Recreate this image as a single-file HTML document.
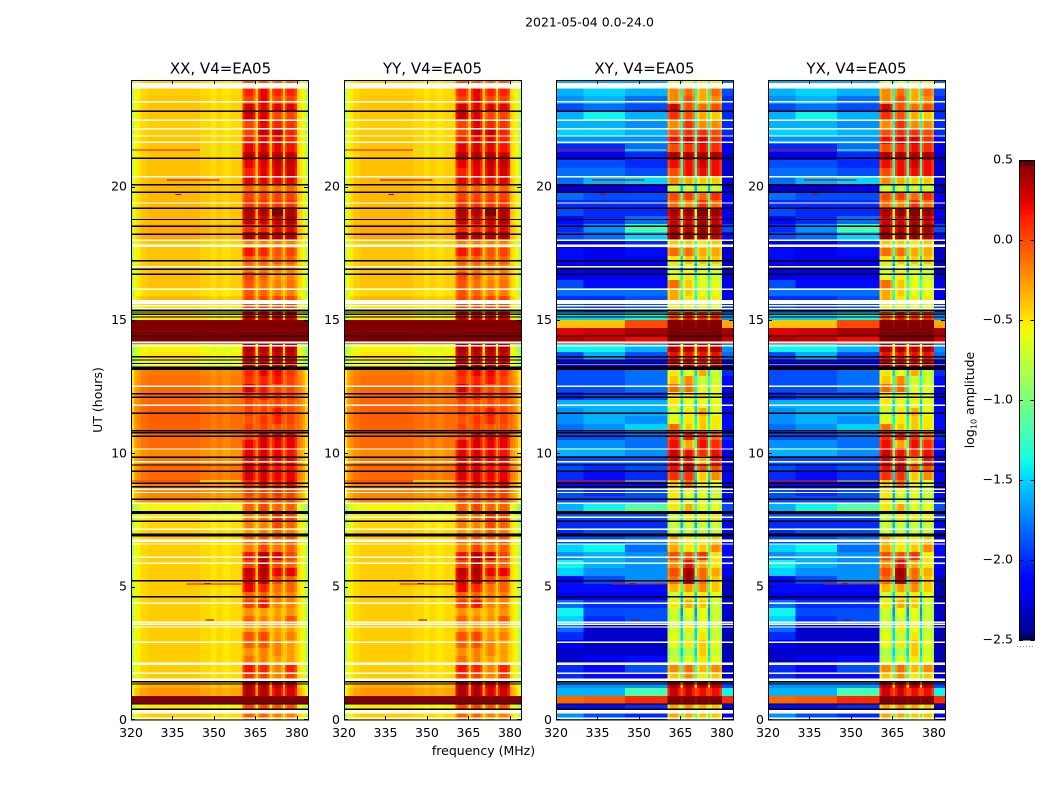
<!DOCTYPE html>
<html lang="en">
<head>
<meta charset="utf-8">
<title>2021-05-04 0.0-24.0</title>
<style>
html,body{margin:0;padding:0;background:#fff;}
svg{display:block;font-family:"DejaVu Sans","Liberation Sans",sans-serif;fill:#000;}
</style>
</head>
<body>
<svg id="chart" xmlns="http://www.w3.org/2000/svg" width="1050" height="800" viewBox="0 0 1050 800">
  <text x="589.5" y="26.5" font-size="12.5" text-anchor="middle">2021-05-04 0.0-24.0</text>
  <text x="220.5" y="73.5" font-size="15" text-anchor="middle">XX, V4=EA05</text>
  <text x="432.5" y="73.5" font-size="15" text-anchor="middle">YY, V4=EA05</text>
  <text x="644.5" y="73.5" font-size="15" text-anchor="middle">XY, V4=EA05</text>
  <text x="856.5" y="73.5" font-size="15" text-anchor="middle">YX, V4=EA05</text>
  <text x="483.5" y="755" font-size="12.5" text-anchor="middle">frequency (MHz)</text>
  <text transform="translate(102,400) rotate(-90)" font-size="12.5" text-anchor="middle">UT (hours)</text>
  <text transform="translate(974,400) rotate(-90)" font-size="12.5" text-anchor="middle">log<tspan font-size="8" dy="2.5">10</tspan><tspan dy="-2.5"> amplitude</tspan></text>
  <defs><linearGradient id="jetGradient" x1="0" y1="1" x2="0" y2="0"></linearGradient></defs>
  <g id="panels"></g>
  <g id="colorbar"></g>
</svg>
<script>
// Frequency channels (MHz): 32 channels between 33 edges
const channelEdges = [320,321,322,323.5,326,330,335,340,345,349,351,353,356,360.4,361.2,364.2,365,366,366.8,369.2,370,371,371.8,374.2,375,375.6,376.4,379.2,380,381,382,383,384];
// Which value in a parallel row each channel reads: 0 low band, 1-4 the four bright sub-bands
const parallelZone = [0,0,0,0,0,0,0,0,0,0,0,0,0,1,1,1,0,2,2,2,0,3,3,3,0,4,4,4,0,0,0,0];
// Which value in a cross row each channel reads: 0-2 low band, 3-6 sub-bands, 7 gaps, 8 upper edge
const crossZone = [0,0,0,0,0,1,1,1,2,2,2,2,2,3,3,3,7,4,4,4,7,5,5,5,7,6,6,6,8,8,8,8];
// Per-channel bandpass roll-off for the parallel hands (log10 amplitude)
const parallelShape = [-.38,-.2,-.12,-.04,0,0,0,0,-.04,-.09,-.04,-.09,-.04,-.2,-.07,-.2,0,-.2,-.07,-.2,0,-.2,-.07,-.2,0,-.2,-.07,-.2,-.03,-.1,-.2,-.36];
// Per-channel roll-off for the cross hands
const crossShape = [0,0,0,0,0,0,0,0,0,0,0,0,0,-.15,0,-.15,0,-.15,0,-.15,0,-.15,0,-.15,0,-.15,0,-.15,0,0,0,0];

// One row per 0.3 h from 0 UT upward: [low band, sub-band 1, 2, 3, 4]
const rowHours = 0.3;
const parallelRows = [
[-.42,0,0,-.1,-.1],[-.5,.1,.1,.05,.05],[.5,.5,.5,.5,.5],[-.25,.45,.45,.35,.35],[-.32,.45,.45,.4,.4],
[-.42,.15,.1,-.1,.1],[-.42,.25,.2,-.1,.2],[-.42,-.05,-.1,-.2,-.2],[-.42,-.15,-.1,-.1,-.2],[-.42,0,.05,-.1,-.2],
[-.42,.05,.1,-.15,-.1],[-.42,-.2,-.15,-.2,-.2],[-.42,0,-.1,-.15,.05],[-.42,-.15,-.2,-.2,-.15],[-.42,.1,.25,-.1,-.1],
[-.42,0,0,-.1,-.1],[-.42,.3,.2,-.05,0],[-.42,.35,.4,.1,0],[-.42,.4,.45,.3,.3],[-.42,.1,.4,.1,0],
[-.42,.25,.45,.35,.1],[-.42,-.1,.1,-.05,0],[-.42,0,.05,0,.05],[-.42,-.2,-.1,0,-.1],[-.44,-.1,-.1,.1,0],
[-.5,-.1,0,.2,.1],[-.55,0,.1,0,0],[-.18,.05,.1,.1,.1],[-.2,.1,.1,.15,.1],[-.15,.2,.3,.25,.3],
[-.1,.35,.35,.3,.3],[-.1,.35,.35,.25,.25],[-.15,.3,.35,.3,.3],[-.2,.3,.35,.3,.25],[-.1,.3,.35,.3,.3],
[-.1,.1,.35,.35,.3],[-.08,.1,.1,.05,.05],[-.07,.05,.15,.2,.1],[-.07,.1,.1,.25,.1],[-.08,.1,.05,.1,.05],
[-.1,.15,.2,.15,.1],[-.1,.35,.25,.1,.1],[-.12,.15,.2,.25,.1],[-.15,.2,.3,.3,.15],[-.55,.4,.4,.4,.4],
[-.5,.4,.4,.4,.4],[-.55,.45,.45,.45,.45],[.5,.5,.5,.5,.5],[.5,.5,.5,.5,.5],[.5,.5,.5,.5,.5],
[-.5,.4,.4,.4,.4],[-.45,.1,.1,.1,.1],[-.35,.1,.1,.1,.1],[-.45,.05,0,-.1,-.1],[-.38,.05,-.05,-.1,-.05],
[-.38,.1,0,-.15,-.1],[-.38,-.05,-.05,-.1,-.1],[-.4,0,0,0,0],[-.4,.25,.2,.05,.1],[-.4,-.1,-.1,-.1,-.1],
[-.3,.45,.45,.45,.45],[-.3,.2,.2,.3,.3],[-.35,.4,.35,.4,.45],[-.35,.45,.45,.5,.45],[-.35,.15,.15,.15,.15],
[-.35,.1,.1,.1,.1],[-.35,0,0,-.05,0],[-.35,.3,.3,.3,.3],[-.38,.2,.3,.35,.35],[-.38,.3,.35,.4,.4],
[-.4,.45,.45,.45,.4],[-.4,.3,.35,.3,.25],[-.4,.2,.3,.3,.2],[-.42,.1,.4,.4,.2],[-.42,.1,.3,.2,.15],
[-.4,.4,.35,.1,.1],[-.4,.35,.3,.3,.3],[-.4,.1,.3,.1,.1],[-.42,.2,.3,.2,.2],[-.42,.05,.05,0,0]
];
// One row per 0.3 h: [320-330, 330-345, 345-360, sub-band 1, 2, 3, 4, gaps, upper edge]
const crossRows = [
[-1.7,-1.9,-2,-.3,-.3,-.4,-.4,-1.2,-2.2],[-2.1,-2.1,-2,-.3,-.2,-.3,-.4,-.8,-2.2],[-.1,-.05,.1,.5,.5,.5,.5,.4,.1],[-1.6,-1.6,-1.2,.3,.3,.2,.2,0,-1.4],
[-1.7,-1.7,-1.7,.4,.4,.4,.4,-.4,-1.9],[-2,-2.1,-2.1,-.4,-.2,-.5,-.4,-1.2,-2.3],[-2,-2.1,-1.9,-.2,-.1,-.35,-.2,-1.3,-2.3],[-2.3,-2.2,-2.1,-.7,-.6,-.5,-.6,-1.4,-2.35],
[-2.3,-2.3,-2.3,-.8,-.8,-.4,-.7,-1.5,-2.35],[-2.2,-2.3,-2.3,-.6,-.5,-.4,-.6,-1.4,-2.35],[-2,-2.3,-2.3,-.6,-.7,-.5,-.7,-1.5,-2.35],[-1.8,-2.3,-2.3,-.7,-.5,-.6,-.7,-1.5,-2.35],
[-1.5,-2,-1.9,-.7,-.7,-.6,-.7,-1.6,-2.35],[-1.4,-1.9,-1.9,-.7,-.6,-.6,-.7,-1.7,-2.3],[-1.8,-2,-2,-.5,-.3,-.4,-.7,-1.6,-2.3],[-2.2,-2.2,-2.2,-.7,-.5,-.5,-.6,-1.5,-2.35],
[-2.1,-2.1,-2.1,-.35,-.25,-.2,-.4,-1.2,-2.35],[-2.1,-1.9,-1.7,-.1,.4,-.1,-.4,-1.4,-2.3],[-1.5,-1.7,-1.7,0,.45,-.1,-.3,-.9,-2.2],[-1.4,-1.6,-1.7,-.2,.2,-.3,-.5,-1.2,-2.1],
[-1.7,-1.6,-1.7,0,0,.1,-.5,-1.3,-2.1],[-1.5,-1.4,-1.8,-.3,-.5,-.4,-.2,-1.2,-2.1],[-1.9,-1.9,-1.8,-.3,-.5,-.5,-.4,-1.2,-2.2],[-2,-1.9,-1.9,-.7,-.7,-.7,-.7,-1.5,-2.1],
[-2,-2,-2,-.7,-.7,-.7,-.7,-1.6,-2.2],[-1.9,-1.9,-1.9,-.7,-.5,-.5,-.5,-1.4,-2],[-1.6,-1.4,-1.15,-.5,-.3,-.6,-.6,-1.3,-1.9],[-1.9,-1.9,-1.9,-.5,-.7,-.6,-.7,-1.6,-2.1],
[-1.9,-2,-1.9,-.5,-.6,-.6,-.7,-1.6,-2.1],[-2.1,-2.1,-2.1,-.4,-.1,-.5,-.6,-1.6,-2.2],[-2,-2.1,-2,.1,.1,-.4,-.2,-1.5,-2.2],[-1.9,-2,-1.9,.2,.35,0,0,-1.3,-2.2],
[-1.9,-1.9,-1.9,.3,.2,-.3,.2,-1,-2.2],[-1.6,-1.6,-1.7,.3,.2,.1,.2,-1,-2.2],[-1.7,-1.7,-1.8,.2,-.3,.2,.1,-1.2,-2.1],[-1.9,-1.9,-1.8,.1,.2,.1,-.1,-1.3,-2],
[-1.8,-1.7,-1.5,-.1,-.4,-.4,-.5,-1.3,-2.1],[-1.7,-1.6,-1.7,-.6,-.5,-.4,-.5,-1.4,-2.1],[-1.7,-1.6,-1.6,-.7,-.5,-.3,-.6,-1.5,-2.1],[-1.6,-1.6,-1.6,-.5,-.6,-.6,-.6,-1.5,-2.2],
[-2,-1.9,-1.9,-.5,-.5,-.5,-.6,-1.4,-2.2],[-1.9,-1.9,-1.8,-.1,-.1,-.6,-.6,-1.4,-2.2],[-1.9,-1.9,-1.8,-.4,-.2,-.7,-.7,-1.3,-2.1],[-1.9,-1.9,-1.8,-.5,-.6,-.3,-.7,-1.5,-2],
[-2.2,-2.2,-2.2,.4,.4,.3,.4,-.8,-2.3],[-1.9,-1.6,-1.9,.2,.2,.2,.2,-.7,-1.8],[-1.4,-1.4,-1.6,.4,.4,.35,.4,-.6,-1.7],[.35,.3,.2,.5,.5,.5,.5,.5,.3],
[.25,.3,.4,.5,.5,.5,.5,.5,.4],[-.4,-.4,0,.5,.5,.5,.5,.4,-.3],[-1.5,-1.5,-1.4,0,.2,.1,.1,-.7,-1.7],[-1.9,-2,-1.9,-.5,-.5,-.6,-.6,-1.2,-2],
[-2,-2,-1.9,-.3,-.5,-.5,-.5,-1.4,-2.2],[-1.8,-1.8,-1.8,-.3,-.4,-.6,-.6,-1.3,-2.2],[-1.9,-2.1,-2.1,-.1,-.4,-.6,-.6,-1.2,-2.2],[-2.2,-2.2,-2.2,-.6,-.5,-.6,-.7,-1.4,-2.3],
[-2.2,-2.2,-2.2,-.7,-.6,-.7,-.7,-1.7,-2.3],[-2.1,-2.2,-2.2,-.5,-.4,-.4,-.4,-1.5,-2.3],[-2.1,-2.2,-2.1,-.1,-.1,-.3,-.3,-1.2,-2.3],[-2.2,-2.2,-2,-.4,-.4,-.5,-.4,-1.3,-2.3],
[-1.9,-1.8,-1.5,.45,.45,.45,.35,-.7,-2.1],[-2,-1.7,-1.2,.35,.35,.45,.4,-.8,-1.9],[-2.1,-2,-1.8,.3,.3,.4,.3,-1.1,-2.2],[-1.9,-2,-2,.4,.45,.5,.45,-.7,-2.2],
[-2,-2,-2,-.1,-.2,.1,-.1,-1.2,-2.2],[-1.8,-1.9,-1.9,0,.05,-.1,.1,-1.2,-2.2],[-2.3,-2.3,-2.2,-.7,-.7,-.7,-.7,-1.6,-2.3],[-1.8,-1.6,-1.5,-.2,-.3,-.4,-.4,-1.3,-2.2],
[-1.8,-1.8,-1.9,0,.2,.2,.2,-1.2,-2.3],[-1.9,-1.9,-2,.2,.2,.3,.2,-1.3,-2.3],[-2.2,-2.2,-2,.4,.4,.4,.4,-1,-2.3],[-2,-2,-1.8,0,.1,.2,.1,-1.3,-2.2],
[-1.7,-1.7,-1.7,.2,.3,.3,.1,-1.2,-2.1],[-1.5,-1.5,-1.6,0,.1,.1,0,-1.4,-2],[-1.6,-1.6,-1.7,-.2,.1,-.2,-.2,-1.4,-2],[-1.6,-1.4,-1.6,.1,0,-.3,-.4,-1.3,-2],
[-1.9,-1.8,-1.9,.3,0,-.1,0,-1.3,-2],[-1.7,-1.6,-1.8,-.2,0,-.3,-.2,-1.3,-2],[-1.6,-1.5,-1.6,-.2,-.1,-.3,-.1,-1.4,-1.9],[-1.6,-1.6,-1.6,-.6,-.6,-.5,-.5,-1.3,-1.8]
];
// Narrow interference streaks: UT hour, start MHz, end MHz, log10 amplitude
const rfiHours = [21.37,21.37,20.25,19.7,5.12,5.1,3.75,8.97,8.97];
const rfiStart = [320,345,333,336,346.5,340,347,320,345];
const rfiEnd = [345,360,352,338,349,360,350,345,360];
const rfiValues = [.2,-.9,.35,.35,.5,.2,.45,.1,-.6];
// Blank (no data) intervals: centre UT hour and duration
const blankHours = [23.79,23.19,22.49,22.17,21.9,21.66,20.37,19.39,17.99,17.78,17,16.15,15.68,15.53,15.42,14.15,14.04,13.35,12.51,11.8,10.16,9.69,8.65,8.53,8.13,7.6,7.15,6.72,6.6,6.1,5.88,4.38,3.66,3.59,3.49,2.91,2.11,1.75,1.5,.31,.06];
const blankSpans = [.2,.05,.05,.05,.05,.05,.05,.05,.05,.1,.05,.05,.15,.05,.05,.08,.05,.05,.05,.05,.05,.05,.05,.05,.05,.05,.05,.1,.05,.05,.05,.05,.05,.05,.05,.05,.1,.05,.12,.15,.05];
// Flagged (black) intervals: centre UT hour and duration
const flagHours = [22.83,21.06,20.07,19.79,19.19,18.77,18.52,18.22,17.22,16.9,16.72,15.37,15.3,15.22,15.11,14.4,13.62,13.5,13.37,13.19,12.24,12.1,11.5,10.85,10.77,10.64,9.85,9.56,9.33,8.88,8.75,8.28,7.78,7.45,6.94,5.22,4.62,1.43,1.35,.6,.4];
const flagSpans = [.05,.05,.05,.05,.05,.05,.05,.05,.05,.05,.05,.05,.05,.05,.05,.05,.05,.05,.05,.12,.05,.05,.05,.05,.05,.05,.05,.05,.05,.05,.05,.05,.12,.05,.12,.05,.05,.05,.05,.05,.05];
// Axis ticks
const freqTicks = [320,335,350,365,380];
const timeTicks = [0,5,10,15,20];
const colorTicks = [0.5,0,-0.5,-1,-1.5,-2,-2.5];
const colorTickLabels = ["0.5","0.0","\u22120.5","\u22121.0","\u22121.5","\u22122.0","\u22122.5"];
// Panels
const panelLefts = [131,344,556,768];
const panelNames = ["xx","yy","xy","yx"];
const panelKinds = ["parallel","parallel","cross","cross"];

const NS = "http://www.w3.org/2000/svg";
const panelW = 177, panelTop = 80, panelBottom = 720;
const vMin = -2.5, vMax = 0.5;
const xScale = (mhz, left) => left + (mhz - 320) / 64 * panelW;
const yScale = h => panelBottom - h / 24 * (panelBottom - panelTop);
const cScale = v => 640 - (v - vMin) / (vMax - vMin) * 480;

function ramp(f, pts) {
  for (let i = 1; i < pts.length; i++) {
    if (f <= pts[i][0]) {
      const a = pts[i-1], b = pts[i];
      return a[1] + (b[1] - a[1]) * (f - a[0]) / (b[0] - a[0]);
    }
  }
  return pts[pts.length-1][1];
}
function jet(v) {
  const f = Math.max(0, Math.min(1, (v - vMin) / (vMax - vMin)));
  const r = ramp(f, [[0,0],[.35,0],[.66,1],[.89,1],[1,.5]]);
  const g = ramp(f, [[0,0],[.125,0],[.375,1],[.64,1],[.91,0],[1,0]]);
  const b = ramp(f, [[0,.5],[.11,1],[.34,1],[.65,0],[1,0]]);
  return "rgb(" + Math.round(r*255) + "," + Math.round(g*255) + "," + Math.round(b*255) + ")";
}
function make(parent, tag, attrs) {
  const el = document.createElementNS(NS, tag);
  for (const k in attrs) el.setAttribute(k, attrs[k]);
  parent.appendChild(el);
  return el;
}
function cellValue(kind, row, ch) {
  if (kind === "parallel") {
    const v = row[parallelZone[ch]];
    return v < 0.5 ? v + parallelShape[ch] : v;
  }
  const c = row[crossZone[ch]];
  return c < 0.5 ? c + crossShape[ch] : c;
}

const panelsRoot = document.getElementById("panels");
panelLefts.forEach((left, p) => {
  const kind = panelKinds[p];
  const rows = kind === "parallel" ? parallelRows : crossRows;
  const g = make(panelsRoot, "g", {});
  
  
  const cells = make(g, "g", {"shape-rendering":"crispEdges"});
  
  
  rows.forEach((row, r) => {
    const yTop = yScale((r + 1) * rowHours);
    const yBot = yScale(r * rowHours);
    for (let ch = 0; ch < channelEdges.length - 1; ch++) {
      const x0 = xScale(channelEdges[ch], left);
      const x1 = xScale(channelEdges[ch+1], left);
      const cell = make(cells, "rect", {x:x0, y:yTop, width:x1-x0, height:yBot-yTop, fill:jet(cellValue(kind, row, ch))});
      
      
    }
  });
  const lines = make(g, "g", {"shape-rendering":"crispEdges"});
  
  
  rfiHours.forEach((h, i) => {
    const x0 = xScale(rfiStart[i], left);
    const x1 = xScale(rfiEnd[i], left);
    const streak = make(lines, "rect", {x:x0, y:yScale(h)-.5, width:x1-x0, height:1, fill:jet(rfiValues[i])});
    
    
  });
  blankHours.forEach((h, i) => {
    const line = make(lines, "rect", {x:left, y:yScale(h + blankSpans[i]/2), width:panelW, height:yScale(h - blankSpans[i]/2)-yScale(h + blankSpans[i]/2), fill:"#fff"});
    
    
  });
  flagHours.forEach((h, i) => {
    const line = make(lines, "rect", {x:left, y:yScale(h + flagSpans[i]/2), width:panelW, height:yScale(h - flagSpans[i]/2)-yScale(h + flagSpans[i]/2), fill:"#000"});
    
    
  });
  const frame = make(g, "rect", {x:left+.5, y:panelTop+.5, width:panelW, height:panelBottom-panelTop-.5, fill:"none", stroke:"#000", "stroke-width":1});
  
  
  freqTicks.forEach(t => {
    const x = Math.round(xScale(t, left)) + .5;
    const top = make(g, "line", {x1:x, x2:x, y1:panelTop, y2:panelTop+4, stroke:"#000"});
    
    
    const bot = make(g, "line", {x1:x, x2:x, y1:panelBottom, y2:panelBottom-4, stroke:"#000"});
    
    
    const label = make(g, "text", {x:xScale(t, left), y:737, "font-size":12.5, "text-anchor":"middle"});
    
    
    label.textContent = String(t);
  });
  timeTicks.forEach(t => {
    const y = Math.round(yScale(t)) + (t === 0 ? -.5 : .5);
    const l = make(g, "line", {x1:left, x2:left+4, y1:y, y2:y, stroke:"#000"});
    
    
    const rt = make(g, "line", {x1:left+panelW, x2:left+panelW-4, y1:y, y2:y, stroke:"#000"});
    
    
    const label = make(g, "text", {x:left-4, y:yScale(t)+4, "font-size":12.5, "text-anchor":"end"});
    
    
    label.textContent = String(t);
  });
});

// Colour bar
const gradient = document.getElementById("jetGradient");
for (let i = 0; i <= 60; i++) {
  make(gradient, "stop", {offset:(i/60*100)+"%", "stop-color":jet(vMin + (vMax - vMin) * i / 60)});
}
const cbRoot = document.getElementById("colorbar");
const cbX = 1019, cbW = 15.5;
const bar = make(cbRoot, "rect", {x:cbX, y:cScale(vMax), width:cbW, height:cScale(vMin)-cScale(vMax), fill:"url(#jetGradient)"});


const cbFrame = make(cbRoot, "rect", {x:cbX+.5, y:cScale(vMax)+.5, width:cbW-.5, height:cScale(vMin)-cScale(vMax)-.5, fill:"none", stroke:"#000"});


colorTicks.forEach((t, i) => {
  const y = Math.round(cScale(t)) + .5;
  const a = make(cbRoot, "line", {x1:cbX, x2:cbX+4, y1:y, y2:y, stroke:"#000"});
  
  
  const b = make(cbRoot, "line", {x1:cbX+cbW, x2:cbX+cbW-4, y1:y, y2:y, stroke:"#000"});
  
  
  const label = make(cbRoot, "text", {x:1013, y:cScale(t)+3.5, "font-size":12.5, "text-anchor":"end"});
  
  
  label.textContent = colorTickLabels[i];
});
// Short vertical minor ticks at both ends of the colour bar, and the faint dotted row beneath it
for (let i = 1; i <= 5; i++) {
  const x = cbX + i * cbW / 6;
  const topTick = make(cbRoot, "line", {x1:x, x2:x, y1:cScale(vMax), y2:cScale(vMax)+6, stroke:"#000", "stroke-width":.8});
  
  
  const botTick = make(cbRoot, "line", {x1:x, x2:x, y1:cScale(vMin), y2:cScale(vMin)-6, stroke:"#000", "stroke-width":.8});
  
  
}
const dots = make(cbRoot, "line", {x1:1017, x2:1035, y1:646.5, y2:646.5, stroke:"#888", "stroke-dasharray":"1 2"});


</script>
</body>
</html>
